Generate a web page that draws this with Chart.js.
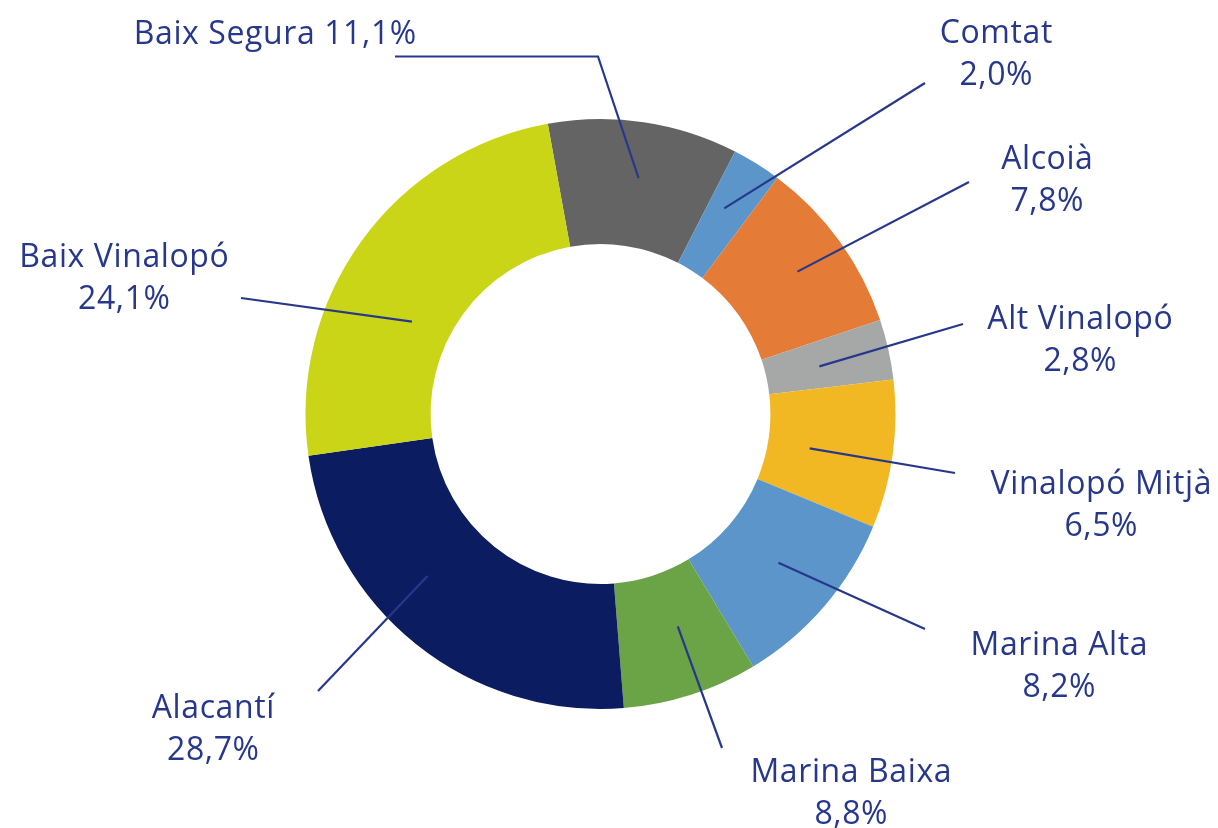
<!DOCTYPE html>
<html><head><meta charset="utf-8">
<script src="https://cdn.jsdelivr.net/npm/chart.js@4.4.1/dist/chart.umd.min.js"></script>
<style>html,body{margin:0;padding:0;background:#fff}#wrap{position:relative;width:1218px;height:828px}</style>
</head><body><div id="wrap"><canvas id="c" width="1218" height="828"></canvas></div>
<script>
// Comarcas (clockwise from top)
const categories = ['Baix Segura','Comtat','Alcoià','Alt Vinalopó','Vinalopó Mitjà','Marina Alta','Marina Baixa','Alacantí','Baix Vinalopó'];
// Arc shares as drawn in the picture (%)
const arcShares = [10.4, 2.7, 9.6, 3.3, 8.1, 10.1, 7.4, 24.0, 24.4];
// Percentages printed on the labels
const labelPercents = [11.1, 2.0, 7.8, 2.8, 6.5, 8.2, 8.8, 28.7, 24.1];
const colors = ['#646464','#5b95c9','#e47b36','#a6a8a7','#f2b824','#5b95c9','#6ba446','#0b1d60','#cad518'];

// Label layout (annotation placement only)
const labelLayout = [
  {x:275,  y:44,  single:true, pts:[[395,56.5],[598,56.5]], t:0.52, r:239},
  {x:996,  y:43,  pts:[[925,83]],  t:0.4,  r:240},
  {x:1047, y:169, pts:[[969,182]], t:0.5,  r:243},
  {x:1080, y:329, pts:[[963,324]], t:0.53, r:224},
  {x:1101, y:494, pts:[[955,473]], t:0.55, r:212},
  {x:1059, y:655, pts:[[925,629]], t:0.48, r:232},
  {x:851,  y:782, pts:[[722,748]], t:0.42, r:226},
  {x:213,  y:718, pts:[[318,691]], t:0.595,r:237},
  {x:124,  y:267, pts:[[241,298]], t:0.39, r:210}
];
const textColor = '#27388c';
const lineColor = '#27388c';
const fontSpec = '32px "Open Sans", sans-serif';
const letterSpace = 0.6;
const lineGap = 42;

const fmt = v => v.toFixed(1).replace('.', ',') + '%';

const calloutPlugin = {
  id: 'callouts',
  afterDraw(chart) {
    const ctx = chart.ctx;
    const meta = chart.getDatasetMeta(0);
    ctx.save();
    meta.data.forEach((arc, i) => {
      const L = labelLayout[i];
      const p = arc.getProps(['x','y','startAngle','endAngle'], true);
      const a = p.startAngle + (p.endAngle - p.startAngle) * L.t;
      const ix = p.x + L.r * Math.cos(a), iy = p.y + L.r * Math.sin(a);
      ctx.strokeStyle = lineColor;
      ctx.lineWidth = 2.2;
      ctx.beginPath();
      ctx.moveTo(L.pts[0][0], L.pts[0][1]);
      for (let k = 1; k < L.pts.length; k++) ctx.lineTo(L.pts[k][0], L.pts[k][1]);
      ctx.lineTo(ix, iy);
      ctx.stroke();
      ctx.fillStyle = textColor;
      ctx.font = fontSpec;
      if ('letterSpacing' in ctx) ctx.letterSpacing = letterSpace + 'px';
      ctx.textAlign = 'center';
      ctx.textBaseline = 'alphabetic';
      const sx = L.x + letterSpace / 2;
      if (L.single) {
        ctx.fillText(categories[i] + ' ' + fmt(labelPercents[i]), sx, L.y);
      } else {
        ctx.fillText(categories[i], sx, L.y);
        ctx.fillText(fmt(labelPercents[i]), sx, L.y + lineGap);
      }
    });
    ctx.restore();
  }
};

new Chart(document.getElementById('c'), {
  type: 'doughnut',
  data: {
    labels: categories,
    datasets: [{
      data: arcShares,
      backgroundColor: colors,
      borderWidth: 0
    }]
  },
  options: {
    responsive: false,
    animation: false,
    rotation: -10.3,
    cutout: '57.6%',
    layout: { padding: { left: 305.5, right: 322.5, top: 119, bottom: 119 } },
    plugins: { legend: { display: false }, tooltip: { enabled: false } }
  },
  plugins: [calloutPlugin]
});
</script>
</body></html>
